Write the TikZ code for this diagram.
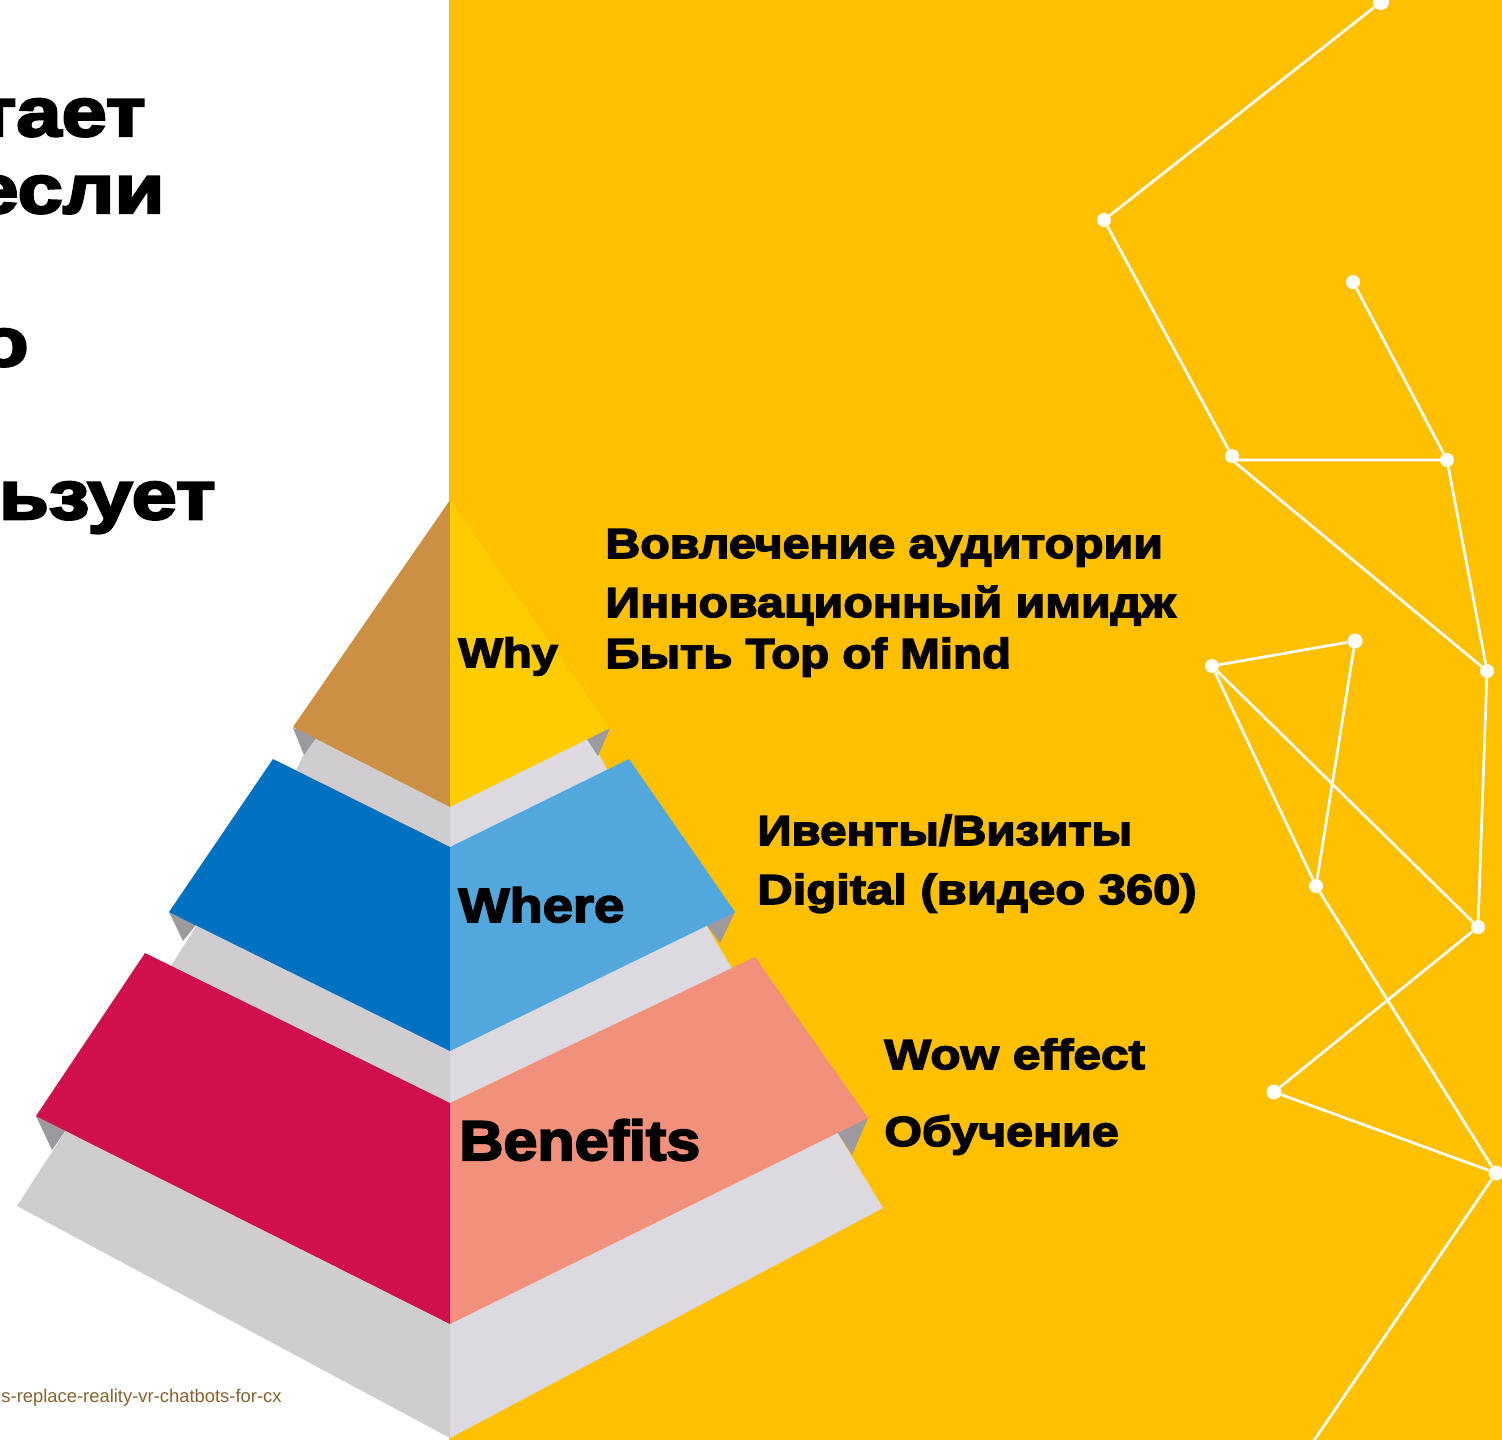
\documentclass[tikz,border=0pt]{standalone}
\usepackage{fontspec}
\setmainfont{Liberation Sans}
\newfontfamily\heavy[BoldFont={Liberation Sans Bold},BoldFeatures={FakeBold=3.6,FakeStretch=1.15}]{Liberation Sans}
\newfontfamily\heavyt[BoldFont={Liberation Sans Bold},BoldFeatures={FakeBold=3.6,FakeStretch=1.13}]{Liberation Sans}
\newfontfamily\heavyn[BoldFont={Liberation Sans Bold},BoldFeatures={FakeBold=3.6,FakeStretch=1.09}]{Liberation Sans}
\newfontfamily\heavyb[BoldFont={Liberation Sans Bold},BoldFeatures={FakeBold=3.6,FakeStretch=1.18}]{Liberation Sans}
\newfontfamily\heavyd[BoldFont={Liberation Sans Bold},BoldFeatures={FakeBold=3.6,FakeStretch=1.165}]{Liberation Sans}
\definecolor{bgyellow}{HTML}{FFC000}
\definecolor{whyL}{HTML}{CC9044}
\definecolor{whyR}{HTML}{FFCC00}
\definecolor{whereL}{HTML}{0070C0}
\definecolor{whereR}{HTML}{52A8DD}
\definecolor{benL}{HTML}{D0104C}
\definecolor{benR}{HTML}{F2917B}
\definecolor{bandL}{HTML}{CFCDD0}
\definecolor{bandR}{HTML}{DCDAE0}
\definecolor{greytri}{HTML}{9C9A9E}
\definecolor{urlcol}{HTML}{8A6230}
\tikzset{
  dot/.style={circle,fill=white,inner sep=0pt,minimum size=7pt},
  link/.style={draw=white,line width=1.35pt},
  lbl/.style={anchor=base west,inner sep=0pt,font=\heavy\bfseries\fontsize{21}{21}\selectfont},
  big/.style={anchor=base east,inner sep=0pt,font=\heavyb\bfseries\fontsize{34.5}{34.5}\selectfont},
}
\begin{document}
\begin{tikzpicture}[x=0.5pt,y=-0.5pt]
\useasboundingbox (0,0) rectangle (1502,1440);
\clip (0,0) rectangle (1502,1440);
\fill[white] (0,0) rectangle (1502,1440);
\fill[bgyellow] (449,0) rectangle (1502,1440);
% network
\node[dot,minimum size=8pt] (n1) at (1381,2) {};
\node[dot] (n2) at (1104,220) {};
\node[dot] (n3) at (1232,456) {};
\coordinate (n3a) at (1232,460);
\node[dot] (n4) at (1447,460) {};
\node[dot] (n5) at (1353,282) {};
\node[dot] (n6) at (1487,671) {};
\node[dot] (n7) at (1478,927) {};
\node[dot,minimum size=7.5pt] (n8) at (1274,1092) {};
\node[dot,minimum size=7.5pt] (n9) at (1496,1173) {};
\node[dot] (n10) at (1316,886) {};
\node[dot] (n11) at (1212,666) {};
\node[dot,minimum size=7.5pt] (n12) at (1355,641) {};
\coordinate (n13) at (1313,1442);
\draw[link] (n1)--(n2) (n2)--(n3) (n3a)--(n4.center) (n4)--(n5) (n3a)--(n6) (n4)--(n6) (n6)--(n7)
 (n7)--(n8) (n8)--(n9) (n9)--(n10) (n10)--(n11) (n11)--(n7) (n11)--(n12) (n12)--(n10) (n9)--(n13);
% top tier
\fill[bandL] (315,732)--(296,770)--(310,800)--(450,870)--(450,800)--cycle;
\fill[bandR] (587,732)--(608,771)--(590,800)--(450,870)--(450,800)--cycle;
\fill[greytri] (293,728)--(318,735)--(304,755)--cycle;
\fill[greytri] (610,728)--(584,735)--(598,756)--cycle;
\fill[whyL] (450,500)--(293,727)--(450,807)--cycle;
\fill[whyR] (450,500)--(610,728)--(450,807)--cycle;
% middle tier
\fill[bandL] (200,920)--(169,969)--(190,1000)--(450,1125)--(450,1045)--cycle;
\fill[bandR] (703,920)--(733,970)--(710,1000)--(450,1125)--(450,1045)--cycle;
\fill[greytri] (169,912)--(200,920)--(183,941)--cycle;
\fill[greytri] (735,912)--(703,920)--(720,943)--cycle;
\fill[whereL] (450,847)--(273,759)--(169,912)--(450,1051)--cycle;
\fill[whereR] (450,847)--(629,759)--(735,912)--(450,1051)--cycle;
% bottom tier
\fill[bandL] (70,1124)--(17,1206)--(450,1438)--(450,1318)--cycle;
\fill[bandR] (834,1127)--(883,1208)--(450,1438)--(450,1318)--cycle;
\fill[greytri] (36,1116)--(70,1124)--(52,1150)--cycle;
\fill[greytri] (868,1118)--(834,1127)--(852,1155)--cycle;
\fill[benL] (450,1103)--(145,953)--(36,1116)--(450,1324)--cycle;
\fill[benR] (450,1103)--(755,957)--(868,1118)--(450,1324)--cycle;
% cut-off heading
\node[big] (h1) at (146,136) {Читает};
\node[big] (h2) at (165,213) {если};
\node[big] (h3) at (29,366) {о};
\node[big] (h4) at (216,519) {пользует};
% tier names
\node[lbl,font=\heavy\bfseries\fontsize{20.5}{20.5}\selectfont] (t1) at (458,667) {Why};
\node[lbl,font=\heavyt\bfseries\fontsize{24}{24}\selectfont] (t2) at (458,922) {Where};
\node[lbl,font=\heavyn\bfseries\fontsize{28}{28}\selectfont] (t3) at (459,1160) {Benefits};
% lists
\node[lbl] (a1) at (605,558) {Вовлечение аудитории};
\node[lbl] (a2) at (605,617) {Инновационный имидж};
\node[lbl,font=\heavyt\bfseries\fontsize{21}{21}\selectfont] (a3) at (605,668) {Быть Top of Mind};
\node[lbl,font=\heavyt\bfseries\fontsize{21}{21}\selectfont] (b1) at (757,845) {Ивенты/Визиты};
\node[lbl,font=\heavyd\bfseries\fontsize{21}{21}\selectfont] (b2) at (757,904) {Digital (видео 360)};
\node[lbl,font=\heavyb\bfseries\fontsize{21}{21}\selectfont] (c1) at (884,1069) {Wow effect};
\node[lbl] (c2) at (884,1146) {Обучение};
% source
\node[anchor=base east,inner sep=0pt,text=urlcol,font=\fontsize{9.2}{9.2}\selectfont] (u) at (282,1402) {s-replace-reality-vr-chatbots-for-cx};
\end{tikzpicture}
\end{document}
